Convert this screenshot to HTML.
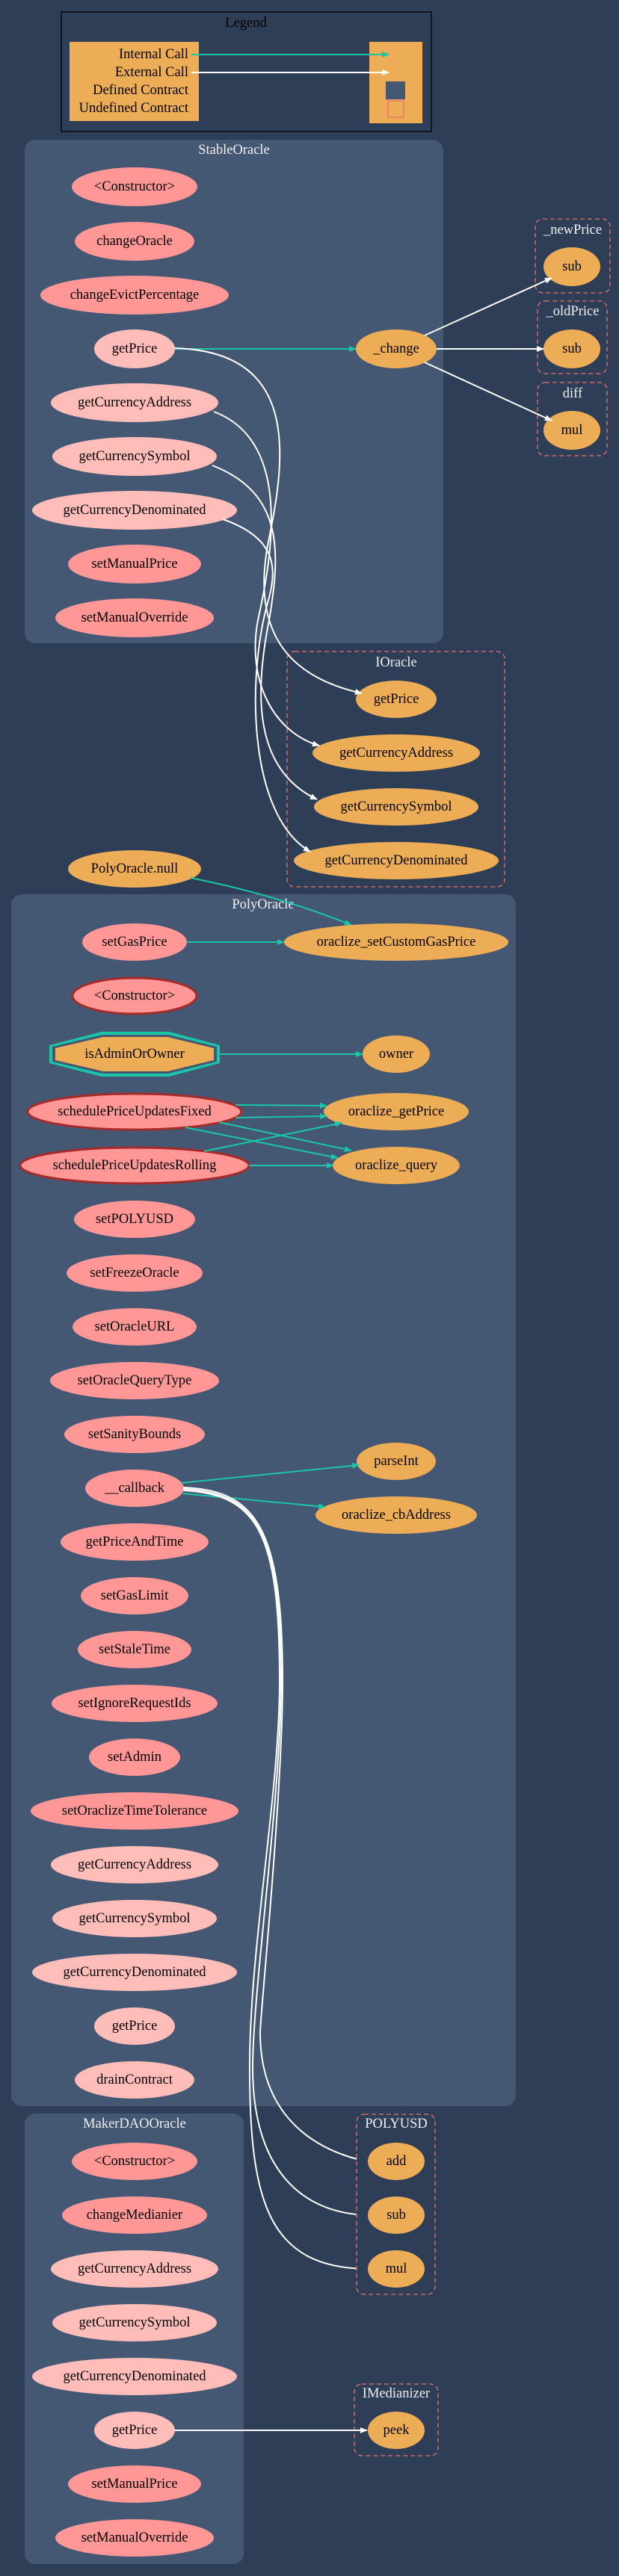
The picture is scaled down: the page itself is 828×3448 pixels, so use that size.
<!DOCTYPE html>
<html><head><meta charset="utf-8"><style>
html,body{margin:0;padding:0;background:#2e3e56;}
svg{display:block;}
text{font-family:"Liberation Serif",serif;font-size:18.5px;text-anchor:middle;dominant-baseline:central;fill:#000;}
.t{fill:#f0f0f0;}
.w{fill:none;stroke:#fff;stroke-width:2;}
.g{fill:none;stroke:#1bc6a6;stroke-width:2;}
.pub{fill:#ff9797;}
.view{fill:#ffbdb9;}
.or{fill:#edad56;}
.cl{fill:#445773;}
.uc{fill:#2e3e56;stroke:#e8726d;stroke-width:1.3;stroke-dasharray:6 4;}
</style></head><body>
<svg width="828" height="3448" viewBox="0 0 828 3448" xmlns="http://www.w3.org/2000/svg">
<defs>
<marker id="aw" markerWidth="10" markerHeight="8" refX="9" refY="4" orient="auto" markerUnits="userSpaceOnUse"><path d="M0,0 L10,4 L0,8 z" fill="#fff"/></marker>
<marker id="ag" markerWidth="10" markerHeight="8" refX="9" refY="4" orient="auto" markerUnits="userSpaceOnUse"><path d="M0,0 L10,4 L0,8 z" fill="#1bc6a6"/></marker>
</defs>
<rect width="828" height="3448" fill="#2e3e56"/>

<!-- Legend -->
<rect x="82" y="16" width="495" height="160" fill="#2e3e56" stroke="#000" stroke-width="1.3"/>
<text x="329" y="31">Legend</text>
<rect x="93" y="56" width="173" height="106" class="or"/>
<rect x="494" y="56" width="71" height="109" class="or"/>
<text x="252" y="73" style="text-anchor:end">Internal Call</text>
<text x="252" y="97" style="text-anchor:end">External Call</text>
<text x="252" y="121" style="text-anchor:end">Defined Contract</text>
<text x="252" y="145" style="text-anchor:end">Undefined Contract</text>
<line x1="256" y1="73" x2="520" y2="73" class="g" marker-end="url(#ag)"/>
<line x1="256" y1="97" x2="520" y2="97" class="w" marker-end="url(#aw)"/>
<rect x="516" y="109" width="26" height="24" fill="#445773"/>
<rect x="519" y="135" width="21" height="22" fill="none" stroke="#e8726d" stroke-width="1.3"/>

<!-- StableOracle -->
<rect x="33" y="187" width="560" height="674" rx="14" class="cl"/>
<text x="313" y="201" class="t">StableOracle</text>
<ellipse cx="180" cy="250" rx="84" ry="26" class="pub"/><text x="180" y="250">&lt;Constructor&gt;</text>
<ellipse cx="180" cy="323" rx="80" ry="26" class="pub"/><text x="180" y="323">changeOracle</text>
<ellipse cx="180" cy="395" rx="126" ry="26" class="pub"/><text x="180" y="395">changeEvictPercentage</text>
<ellipse cx="180" cy="467" rx="54" ry="26" class="view"/><text x="180" y="467">getPrice</text>
<ellipse cx="180" cy="539" rx="112" ry="26" class="view"/><text x="180" y="539">getCurrencyAddress</text>
<ellipse cx="180" cy="611" rx="110" ry="26" class="view"/><text x="180" y="611">getCurrencySymbol</text>
<ellipse cx="180" cy="683" rx="137" ry="26" class="view"/><text x="180" y="683">getCurrencyDenominated</text>
<ellipse cx="180" cy="755" rx="89" ry="26" class="pub"/><text x="180" y="755">setManualPrice</text>
<ellipse cx="180" cy="827" rx="106" ry="26" class="pub"/><text x="180" y="827">setManualOverride</text>
<ellipse cx="530" cy="467" rx="54" ry="26" class="or"/><text x="530" y="467">_change</text>

<!-- right clusters -->
<rect x="716" y="293" width="100" height="99" rx="10" class="uc"/>
<text x="766" y="308" class="t">_newPrice</text>
<ellipse cx="765" cy="357" rx="38" ry="26" class="or"/><text x="765" y="357">sub</text>
<rect x="719" y="403" width="93" height="97" rx="10" class="uc"/>
<text x="766" y="417" class="t">_oldPrice</text>
<ellipse cx="765" cy="467" rx="38" ry="26" class="or"/><text x="765" y="467">sub</text>
<rect x="719" y="512" width="93" height="98" rx="10" class="uc"/>
<text x="766" y="527" class="t">diff</text>
<ellipse cx="765" cy="576" rx="38" ry="26" class="or"/><text x="765" y="576">mul</text>

<path d="M234,467 L476,467" class="g" marker-end="url(#ag)"/>
<path d="M568,449 L738,372" class="w" marker-end="url(#aw)"/>
<path d="M584,467 L727,467" class="w" marker-end="url(#aw)"/>
<path d="M568,485 L738,563" class="w" marker-end="url(#aw)"/>

<!-- IOracle -->
<rect x="384" y="872" width="291" height="315" rx="10" class="uc"/>
<text x="530" y="887" class="t">IOracle</text>
<ellipse cx="530" cy="936" rx="54" ry="25" class="or"/><text x="530" y="936">getPrice</text>
<ellipse cx="530" cy="1008" rx="112" ry="25" class="or"/><text x="530" y="1008">getCurrencyAddress</text>
<ellipse cx="530" cy="1080" rx="110" ry="25" class="or"/><text x="530" y="1080">getCurrencySymbol</text>
<ellipse cx="530" cy="1152" rx="137" ry="25" class="or"/><text x="530" y="1152">getCurrencyDenominated</text>

<path d="M233,466 C395,470 385,600 360,720 C335,840 380,905 484,928" class="w" marker-end="url(#aw)"/>
<path d="M286,551 C390,590 365,740 345,830 C330,910 365,980 427,998" class="w" marker-end="url(#aw)"/>
<path d="M284,623 C380,660 375,740 360,830 C340,930 340,1030 424,1070" class="w" marker-end="url(#aw)"/>
<path d="M298,695 C370,720 370,760 360,800 C330,900 330,1090 415,1140" class="w" marker-end="url(#aw)"/>

<!-- PolyOracle.null -->
<ellipse cx="180" cy="1163" rx="89" ry="25" class="or"/><text x="180" y="1163">PolyOracle.null</text>

<!-- PolyOracle -->
<rect x="15" y="1197" width="675" height="1622" rx="14" class="cl"/>
<text x="352" y="1211" class="t">PolyOracle</text>
<path d="M255,1175 C330,1190 400,1210 470,1238" class="g" marker-end="url(#ag)"/>
<ellipse cx="180" cy="1261" rx="70" ry="25" class="pub"/><text x="180" y="1261">setGasPrice</text>
<ellipse cx="530" cy="1261" rx="150" ry="25" class="or"/><text x="530" y="1261">oraclize_setCustomGasPrice</text>
<path d="M250,1261 L380,1261" class="g" marker-end="url(#ag)"/>

<ellipse cx="180" cy="1333" rx="83" ry="24" class="pub" stroke="#a52a2a" stroke-width="3"/><text x="180" y="1333">&lt;Constructor&gt;</text>
<polygon points="136,1381 226,1381 294,1399 294,1423 226,1441 136,1441 66,1423 66,1399" fill="#1bc6a6"/>
<polygon points="137,1385 225,1385 290,1401 290,1421 225,1437 137,1437 70,1421 70,1401" fill="#445773"/>
<polygon points="138,1388 224,1388 286,1403 286,1419 224,1434 138,1434 74,1419 74,1403" class="or"/>
<text x="180" y="1411">isAdminOrOwner</text>
<ellipse cx="530" cy="1411" rx="45" ry="25" class="or"/><text x="530" y="1411">owner</text>
<path d="M294,1411 L485,1411" class="g" marker-end="url(#ag)"/>

<ellipse cx="180" cy="1488" rx="143" ry="24" class="pub" stroke="#a52a2a" stroke-width="3"/><text x="180" y="1488">schedulePriceUpdatesFixed</text>
<ellipse cx="180" cy="1560" rx="153" ry="24" class="pub" stroke="#a52a2a" stroke-width="3"/><text x="180" y="1560">schedulePriceUpdatesRolling</text>
<ellipse cx="530" cy="1488" rx="97" ry="25" class="or"/><text x="530" y="1488">oraclize_getPrice</text>
<ellipse cx="530" cy="1560" rx="85" ry="25" class="or"/><text x="530" y="1560">oraclize_query</text>
<path d="M315,1479 L437,1480" class="g" marker-end="url(#ag)"/>
<path d="M315,1496 L437,1494" class="g" marker-end="url(#ag)"/>
<path d="M293,1502 L470,1540" class="g" marker-end="url(#ag)"/>
<path d="M248,1509 L452,1550" class="g" marker-end="url(#ag)"/>
<path d="M273,1541 L457,1503" class="g" marker-end="url(#ag)"/>
<path d="M333,1560 L446,1560" class="g" marker-end="url(#ag)"/>

<ellipse cx="180" cy="1632" rx="81" ry="25" class="pub"/><text x="180" y="1632">setPOLYUSD</text>
<ellipse cx="180" cy="1704" rx="91" ry="25" class="pub"/><text x="180" y="1704">setFreezeOracle</text>
<ellipse cx="180" cy="1776" rx="83" ry="25" class="pub"/><text x="180" y="1776">setOracleURL</text>
<ellipse cx="180" cy="1848" rx="113" ry="25" class="pub"/><text x="180" y="1848">setOracleQueryType</text>
<ellipse cx="180" cy="1920" rx="94" ry="25" class="pub"/><text x="180" y="1920">setSanityBounds</text>
<ellipse cx="180" cy="1992" rx="66" ry="25" class="pub"/><text x="180" y="1992">__callback</text>
<ellipse cx="180" cy="2064" rx="99" ry="25" class="pub"/><text x="180" y="2064">getPriceAndTime</text>
<ellipse cx="180" cy="2136" rx="72" ry="25" class="pub"/><text x="180" y="2136">setGasLimit</text>
<ellipse cx="180" cy="2208" rx="76" ry="25" class="pub"/><text x="180" y="2208">setStaleTime</text>
<ellipse cx="180" cy="2280" rx="111" ry="25" class="pub"/><text x="180" y="2280">setIgnoreRequestIds</text>
<ellipse cx="180" cy="2352" rx="61" ry="25" class="pub"/><text x="180" y="2352">setAdmin</text>
<ellipse cx="180" cy="2424" rx="139" ry="25" class="pub"/><text x="180" y="2424">setOraclizeTimeTolerance</text>
<ellipse cx="180" cy="2496" rx="112" ry="25" class="view"/><text x="180" y="2496">getCurrencyAddress</text>
<ellipse cx="180" cy="2568" rx="110" ry="25" class="view"/><text x="180" y="2568">getCurrencySymbol</text>
<ellipse cx="180" cy="2640" rx="137" ry="25" class="view"/><text x="180" y="2640">getCurrencyDenominated</text>
<ellipse cx="180" cy="2712" rx="54" ry="25" class="view"/><text x="180" y="2712">getPrice</text>
<ellipse cx="180" cy="2784" rx="80" ry="25" class="view"/><text x="180" y="2784">drainContract</text>

<ellipse cx="530" cy="1956" rx="53" ry="25" class="or"/><text x="530" y="1956">parseInt</text>
<ellipse cx="530" cy="2028" rx="108" ry="25" class="or"/><text x="530" y="2028">oraclize_cbAddress</text>
<path d="M242,1985 L480,1961" class="g" marker-end="url(#ag)"/>
<path d="M244,1999 L435,2017" class="g" marker-end="url(#ag)"/>

<!-- callback -> POLYUSD -->
<path d="M245,1991 C340,1995 378,2040 378,2250 C378,2400 348,2700 348,2720 C348,2840 430,2880 490,2893" class="w" marker-end="url(#aw)"/>
<path d="M245,1993 C342,1998 376,2045 376,2250 C376,2400 340,2650 338,2760 C336,2900 400,2962 491,2965" class="w" marker-end="url(#aw)"/>
<path d="M245,1995 C344,2000 374,2050 374,2250 C374,2400 335,2600 334,2760 C333,2950 360,3035 491,3037" class="w" marker-end="url(#aw)"/>

<!-- MakerDAOOracle -->
<rect x="33" y="2829" width="293" height="603" rx="14" class="cl"/>
<text x="180" y="2843" class="t">MakerDAOOracle</text>
<ellipse cx="180" cy="2893" rx="84" ry="25" class="pub"/><text x="180" y="2893">&lt;Constructor&gt;</text>
<ellipse cx="180" cy="2965" rx="97" ry="25" class="pub"/><text x="180" y="2965">changeMedianier</text>
<ellipse cx="180" cy="3037" rx="112" ry="25" class="view"/><text x="180" y="3037">getCurrencyAddress</text>
<ellipse cx="180" cy="3109" rx="110" ry="25" class="view"/><text x="180" y="3109">getCurrencySymbol</text>
<ellipse cx="180" cy="3181" rx="137" ry="25" class="view"/><text x="180" y="3181">getCurrencyDenominated</text>
<ellipse cx="180" cy="3253" rx="54" ry="25" class="view"/><text x="180" y="3253">getPrice</text>
<ellipse cx="180" cy="3325" rx="89" ry="25" class="pub"/><text x="180" y="3325">setManualPrice</text>
<ellipse cx="180" cy="3397" rx="106" ry="25" class="pub"/><text x="180" y="3397">setManualOverride</text>

<!-- POLYUSD -->
<rect x="477" y="2830" width="105" height="241" rx="10" class="uc"/>
<text x="530" y="2843" class="t">POLYUSD</text>
<ellipse cx="530" cy="2893" rx="38" ry="25" class="or"/><text x="530" y="2893">add</text>
<ellipse cx="530" cy="2965" rx="38" ry="25" class="or"/><text x="530" y="2965">sub</text>
<ellipse cx="530" cy="3037" rx="38" ry="25" class="or"/><text x="530" y="3037">mul</text>

<!-- IMedianizer -->
<rect x="474" y="3191" width="112" height="96" rx="10" class="uc"/>
<text x="530" y="3204" class="t">IMedianizer</text>
<ellipse cx="530" cy="3253" rx="38" ry="25" class="or"/><text x="530" y="3253">peek</text>
<path d="M233,3253 L491,3253" class="w" marker-end="url(#aw)"/>
</svg>
</body></html>
